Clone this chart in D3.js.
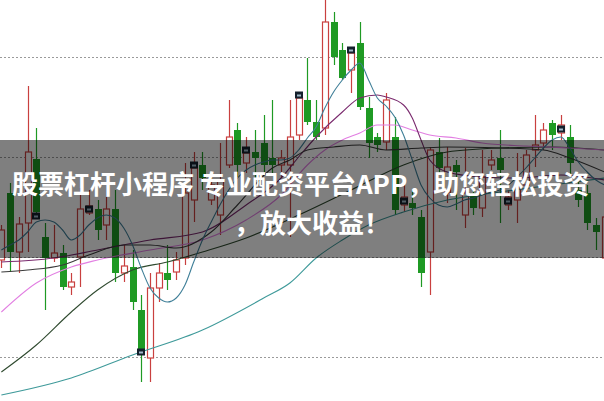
<!DOCTYPE html>
<html><head><meta charset="utf-8">
<script src="https://cdn.jsdelivr.net/npm/d3@7"></script>
<style>html,body{margin:0;padding:0;background:#fff;overflow:hidden}svg{display:block}</style>
</head><body>
<svg id="c" width="604" height="401"></svg>
<script>
// ---- data (prices) ----
const idx = d3.range(70);
const opens  = [5.97,6.64,6.05,6.34,6.98,6.20,5.99,6.04,5.70,6.00, 6.44,6.48,6.32,6.48,5.84,5.90,5.47,4.99,5.69,5.84, 5.85,5.99,6.57,6.92,6.57,6.42,6.92,7.27,6.94,7.05, 7.14,6.99,6.92,6.92,7.22,7.57,7.35,7.29,8.35,8.07, 7.87,8.14,7.49,7.20,7.15,7.20,6.52,6.54,6.40,6.05, 7.05,6.64,6.92,6.42,6.64,6.49,6.92,6.99,6.52,6.57, 6.72,7.07,7.14,7.34,7.24,7.20,6.67,6.64,6.32,5.99];
const highs  = [6.32,6.74,6.40,7.71,7.29,6.34,6.32,6.12,5.84,6.69, 6.67,6.57,6.60,6.67,6.12,6.07,5.62,5.84,5.94,6.12, 6.05,6.94,7.05,7.05,6.80,7.14,7.57,7.34,7.20,7.27, 7.42,7.57,7.07,7.57,7.65,7.99,7.57,8.60,8.45,8.14, 8.10,8.35,7.60,7.24,7.64,7.40,6.72,6.67,6.47,7.10, 7.19,7.10,6.97,7.09,6.72,7.07,7.07,7.27,6.67,7.04, 7.07,7.42,7.34,7.37,7.42,7.32,6.80,6.72,6.39,6.47];
const lows   = [5.89,5.85,5.84,6.05,6.39,5.47,5.95,5.67,5.62,5.70, 6.42,6.17,6.17,5.75,5.75,5.47,4.75,4.75,5.55,5.67, 5.77,5.92,6.35,6.67,6.52,6.22,6.89,6.80,6.84,6.77, 6.85,6.84,6.80,6.20,7.17,7.32,7.17,7.22,7.92,7.77, 7.64,7.47,6.99,7.05,7.07,6.42,6.45,6.42,5.70,5.62, 6.82,6.54,6.47,6.29,6.42,6.40,6.87,6.34,6.47,6.34, 6.62,6.90,7.07,7.07,7.17,6.82,6.50,6.27,6.07,5.95];
const closes = [6.27,6.05,6.33,7.05,6.45,5.99,6.04,5.70,5.75,6.48, 6.51,6.27,6.48,5.84,5.91,5.55,5.02,5.69,5.84,5.77, 5.97,6.64,6.89,6.79,6.72,6.77,7.20,6.92,7.04,6.99, 6.92,6.92,6.99,7.20,7.59,7.35,7.20,8.35,8.00,7.79, 8.04,7.50,7.14,7.12,7.57,6.47,6.60,6.49,5.84,7.07, 6.89,6.90,6.85,6.64,6.49,6.80,6.97,6.87,6.60,6.69, 7.02,7.12,7.27,7.22,7.32,6.94,6.57,6.34,6.25,6.40];
// marked bars (index, price)
const markIdx   = [4, 10, 16, 22, 28, 34, 40, 46, 58, 64];
const markPrice = [6.41,6.48,5.05,6.92,7.07,7.62,8.07,6.56,6.56,7.28];
// moving averages (index, price)
const maFast = [6.07,6.12,6.17,6.25,6.35,6.37,6.35,6.27,6.17,6.22, 6.32,6.39,6.42,6.39,6.29,6.12,5.89,5.69,5.59,5.55, 5.59,5.72,5.95,6.17,6.35,6.52,6.67,6.79,6.87,6.92, 6.95,6.97,6.97,6.99,7.07,7.19,7.30,7.49,7.65,7.77, 7.87,7.94,7.77,7.59,7.51,7.40,7.22,6.97,6.72,6.59, 6.52,6.50,6.53,6.57,6.59,6.62,6.65,6.67,6.72,6.80, 6.89,6.99,7.09,7.17,7.20,7.09,6.95,6.85,6.77,6.72];
const ma10Idx = [0,3,7,10,14,17,20,24,27,31,33,35,38,41,44,48,51,57,62,65,69];
const ma10Val = [5.85,5.87,5.92,6.02,6.12,6.12,6.09,6.25,6.52,6.89,6.97,7.07,7.10,7.12,7.07,7.09,7.10,7.09,7.07,6.99,6.85];
const ma20Idx = [0,6,11,17,23,28,32,34,36,39,41,43,44,46,47,48,49,51,55,59,64,69];
const ma20Val = [5.95,5.99,6.07,6.17,6.25,6.52,6.79,7.00,7.20,7.45,7.59,7.62,7.60,7.52,7.39,7.17,6.97,6.85,6.80,6.79,6.82,6.77];
const ma30Idx = [0,4,8,11,17,23,28,32,35,37,39,41,43,45,47,49,52,55,60,65,69];
const ma30Val = [5.45,5.74,5.90,5.97,6.07,6.17,6.37,6.62,6.92,7.07,7.17,7.24,7.32,7.32,7.27,7.22,7.19,7.14,7.11,7.09,7.07];
const ma60Idx = [0,4,8,11,15,19,23,28,34,40,46,51,57,63,69];
const ma60Val = [4.85,5.12,5.45,5.67,5.87,5.95,6.05,6.19,6.42,6.67,6.92,7.05,7.09,7.10,7.07];
const ma120Idx = [0,8,15,23,30,33,36,39,42,46,51,57,63,69];
const ma120Val = [4.62,4.79,5.02,5.27,5.59,5.74,5.99,6.17,6.32,6.45,6.57,6.65,6.72,6.79];
const gridTicks = [5, 6, 7, 8];
const bannerLine1 = "股票杠杆小程序 专业配资平台APP，助您轻松投资";
const bannerLine2 = "，放大收益！";

// ---- drawing ----
const W = 604, H = 401;
const svg = d3.select("#c");
const x = d3.scaleBand().domain(idx).range([-3, 609]).padding(0);
const cx = i => x(i) + x.bandwidth() / 2;
const y = d3.scaleLinear().domain([4.56, 8.57]).range([H, 0]);
const RED = "#c9403f", GREEN = "#1f9a24";

// grid
svg.append("g").selectAll("line").data(gridTicks).join("line")
  .attr("x1", 0).attr("x2", W)
  .attr("y1", d => Math.round(y(d)) + 0.5).attr("y2", d => Math.round(y(d)) + 0.5)
  .attr("stroke", "#9a9a9a").attr("stroke-width", 1).attr("stroke-dasharray", "2,2");

// candles
const g = svg.append("g");
const bw = 6;
idx.forEach(i => {
  const o = opens[i], c = closes[i], h = highs[i], l = lows[i];
  const up = c >= o;
  const col = up ? RED : GREEN;
  const X = Math.round(cx(i)) + 0.5;
  const top = y(Math.max(o, c)), bot = y(Math.min(o, c));
  g.append("line").attr("x1", X).attr("x2", X).attr("y1", y(h)).attr("y2", y(l))
    .attr("stroke", col).attr("stroke-width", 1.2);
  if (up) {
    g.append("rect").attr("x", X - bw / 2).attr("y", top).attr("width", bw)
      .attr("height", Math.max(1, bot - top)).attr("fill", "#fff").attr("stroke", col).attr("stroke-width", 1.2);
  } else {
    g.append("rect").attr("x", X - bw / 2 - 0.5).attr("y", top).attr("width", bw + 1)
      .attr("height", Math.max(1.5, bot - top)).attr("fill", col);
  }
});

// moving averages
const lineIdx = d3.line().x(d => cx(d[0])).y(d => y(d[1])).curve(d3.curveMonotoneX);
const zip = (a, b) => a.map((v, k) => [v, b[k]]);
const mas = [
  {pts: zip(ma120Idx, ma120Val), col: "#3f9a9a"},
  {pts: zip(ma60Idx, ma60Val), col: "#2f4a2f"},
  {pts: zip(ma30Idx, ma30Val), col: "#e27fe2"},
  {pts: zip(ma20Idx, ma20Val), col: "#7a2a6e"},
  {pts: zip(ma10Idx, ma10Val), col: "#3a3a3a"},
  {pts: zip(idx, maFast), col: "#3f7f98"}
];
svg.append("g").selectAll("path").data(mas).join("path")
  .attr("d", d => lineIdx(d.pts)).attr("fill", "none")
  .attr("stroke", d => d.col).attr("stroke-width", 1.1);

// markers
const mk = svg.append("g");
markIdx.forEach((i, k) => {
  const X = Math.round(cx(i)), Y = y(markPrice[k]);
  mk.append("rect").attr("x", X - 4).attr("y", Y - 3.5).attr("width", 8).attr("height", 7).attr("fill", "#14202c");
  mk.append("rect").attr("x", X - 2).attr("y", Y - 0.5).attr("width", 4).attr("height", 2).attr("fill", "#9fb8c8");
});

// banner
svg.append("rect").attr("x", 0).attr("y", 140).attr("width", W).attr("height", 118)
  .attr("fill", "rgba(0,0,0,0.5)");
const tf = "'Noto Sans CJK SC','Noto Sans',sans-serif";
svg.append("text").attr("x", 12).attr("y", 194).text(bannerLine1)
  .attr("font-family", tf).attr("font-weight", 700).attr("font-size", 26).attr("fill", "#fff");
svg.append("text").attr("x", 234).attr("y", 233).text(bannerLine2)
  .attr("font-family", tf).attr("font-weight", 700).attr("font-size", 26).attr("fill", "#fff");
</script>
</body></html>
